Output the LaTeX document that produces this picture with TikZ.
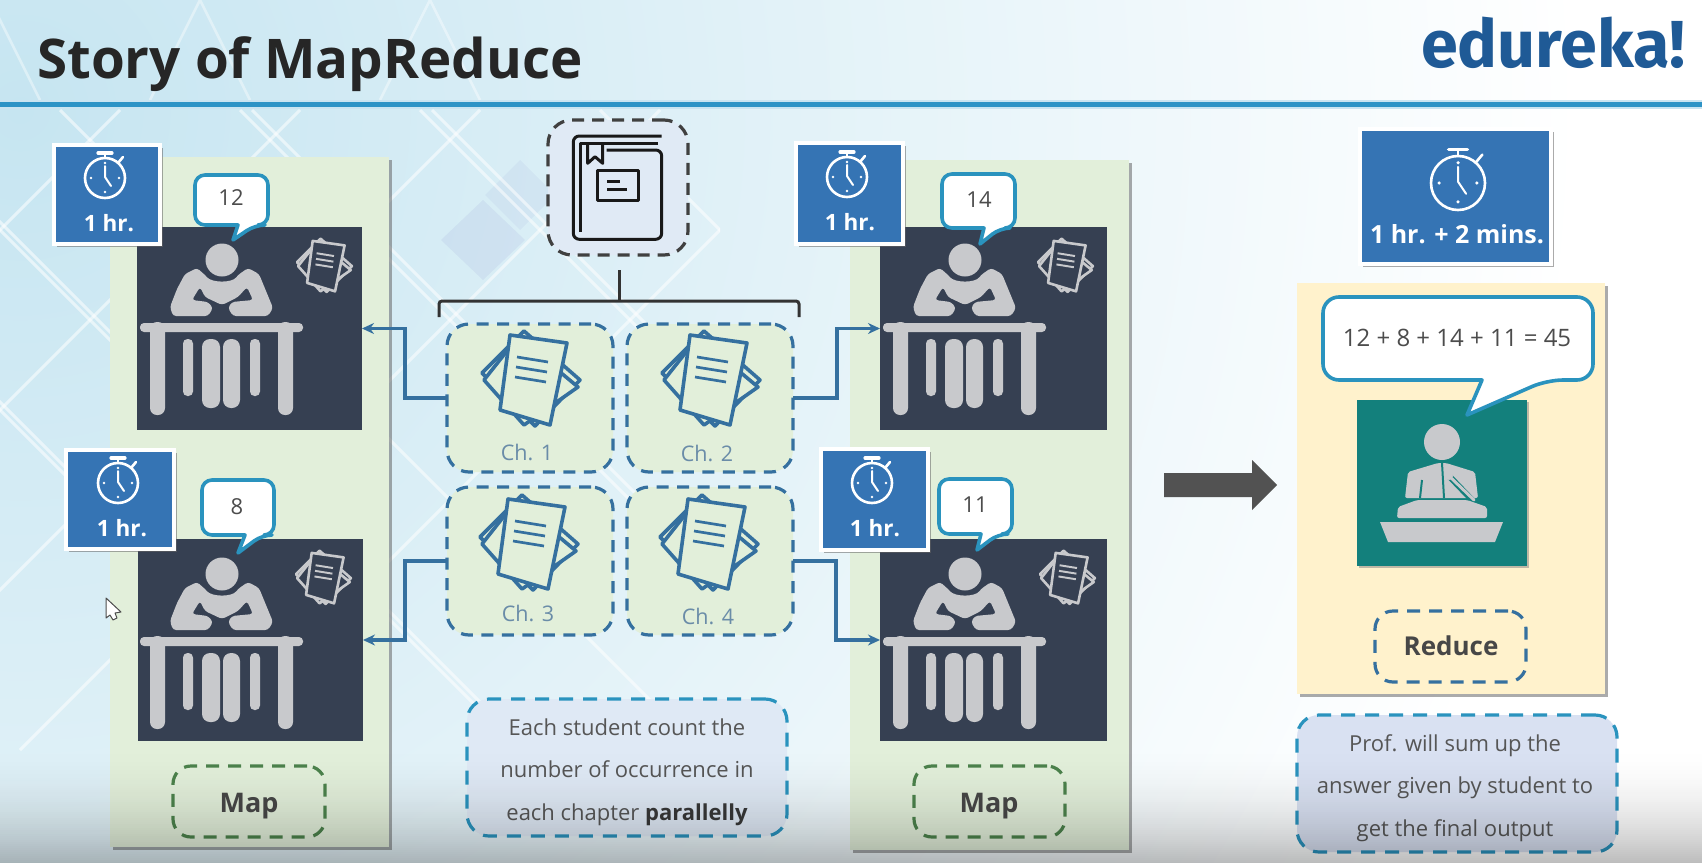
\documentclass[tikz,border=0pt]{standalone}
\usepackage{fontspec}
\setmainfont{Open Sans}
\newfontfamily\logofont{Fira Sans}
\usetikzlibrary{arrows.meta,shadows}
\definecolor{clockblue}{HTML}{3574B4}
\definecolor{slate}{HTML}{364052}
\definecolor{iconhue}{HTML}{C8C9CC}
\definecolor{pgreen}{HTML}{E2EFDA}
\definecolor{pyellow}{HTML}{FFF2CC}
\definecolor{wire}{HTML}{35709F}
\definecolor{teal1}{HTML}{13807C}
\definecolor{bubblec}{HTML}{2A93BE}
\definecolor{cyanrule}{HTML}{2D93C6}
\definecolor{logoblue}{HTML}{1F5A96}
\definecolor{txt}{HTML}{565656}
\definecolor{chtxt}{HTML}{6A8CA8}
\definecolor{bgblue}{HTML}{C6E5F1}
\definecolor{bookfill}{HTML}{E0EAF5}
\definecolor{noteone}{HTML}{DFE9F5}
\definecolor{notetwo}{HTML}{D9E1F2}
\tikzset{
  x=1pt,y=-1pt,
  bx/.style={rectangle,inner sep=0pt,outer sep=0pt},
  pshadow/.style={drop shadow={shadow xshift=2.5pt,shadow yshift=-2.5pt,fill=black!60,opacity=.55}},
  panel/.style={bx,pshadow},
  clockbx/.style={bx,fill=clockblue,draw=white,line width=3.5pt,pshadow},
  chap/.style={bx,rounded corners=22pt,fill=pgreen,draw=wire,line width=3.2pt,dash pattern=on 12pt off 8.5pt},
  tagbx/.style={bx,rounded corners=18pt,line width=3.2pt,dash pattern=on 13pt off 9pt},
  tagtxt/.style={inner sep=0pt,anchor=base,text=black!72,font=\fontsize{27}{30}\selectfont\bfseries},
  notebx/.style={bx,rounded corners=22pt,draw=bubblec,line width=3.2pt,dash pattern=on 14pt off 10pt},
  notetxt/.style={inner sep=0pt,align=center,text=txt,font=\fontsize{22}{42.5}\selectfont},
  bubblebx/.style={draw=bubblec,fill=white,line width=3.6pt,rounded corners=10pt,line join=round},
  bubbletxt/.style={inner sep=0pt,text=black!70,font=\fontsize{22}{26}\selectfont},
  wirepath/.style={draw=wire,line width=3.4pt,-{Stealth[length=12pt,width=11pt]}},
  chtext/.style={inner sep=0pt,text=chtxt,font=\fontsize{21.5}{24}\selectfont},
  hrtext/.style={inner sep=0pt,text=white,font=\fontsize{22.5}{26}\selectfont\bfseries},
}
% box given by its corners
\newcommand\cornerbox[6]{\node[#2,minimum width={#5-#3},minimum height={#6-#4}] (#1) at ({(#3+#5)/2},{(#4+#6)/2}) {};}
% stopwatch
\newcommand\stopwatch[3]{\begin{scope}[shift={(#1,#2)},scale=#3,draw=white,line cap=round,line width=2.6pt]
  \draw (0,0) circle (20);
  \draw (0,-20) -- (0,-25);
  \draw[line width=3.2pt] (-7,-25) -- (7,-25);
  \draw (13,-15) -- (18,-21);
  \draw[line width=2pt] (0,-12) -- (0,-1) -- (6,8);
  \fill[white] (-14,0) circle (1.3) (14,0) circle (1.3) (0,14) circle (1.3) (0,-15) circle (1.3);
\end{scope}}
% pile of sheets
\newcommand\paperstack[6]{\begin{scope}[shift={(#1,#2)},scale=#3,draw=#4,line width=#6,line join=round]
  \filldraw[fill=#5] (-50,-5) -- (-8,-47) -- (48,2) -- (3,48) -- cycle;
  \filldraw[fill=#5] (-48,2) -- (-14,-41) -- (46,9) -- (-8,47) -- cycle;
  \filldraw[fill=#5] (-22,-43) -- (35,-35) -- (18,47) -- (-32,32) -- cycle;
  \draw[line width=.75*#6] (-15,-21) -- (16,-16) (-16,-11) -- (15,-6) (-17,-1) -- (14,4);
\end{scope}}
% student at a desk, relative to the square's corner
\newcommand\student[2]{\begin{scope}[shift={(#1,#2)},fill=iconhue]
  \fill (85,33) circle (16.5);
  \fill[rounded corners=3pt] (36,89) -- (33,80) -- (40,62) -- (48,47) -- (60,41) -- (68,48) .. controls (75,56) and (95,56) .. (101,48) -- (111,41) -- (122,47) -- (136,81) -- (131,89) -- (96,89) -- (91,81) -- (95,75) -- (116,73) -- (110,60) -- (101,70) -- (85,78) -- (68,70) -- (63,60) -- (55,73) -- (71,75) -- (76,81) -- (71,89) -- cycle;
  \fill[rounded corners=4pt] (3,96) rectangle (166,105);
  \fill[rounded corners=7pt] (13,95) rectangle (28,188);
  \fill[rounded corners=7pt] (141,95) rectangle (156,188);
  \fill[rounded corners=4.5pt] (46,112) rectangle (56,169);
  \fill[rounded corners=8pt] (65,112) rectangle (83,181);
  \fill[rounded corners=8pt] (86,112) rectangle (103,181);
  \fill[rounded corners=4.5pt] (113,112) rectangle (123,169);
\end{scope}}
\begin{document}
\begin{tikzpicture}
\useasboundingbox (0,0) rectangle (1702,862);
% background
\fill[white] (0,0) rectangle (1702,862);
\begin{scope}
  \clip (0,0) rectangle (1702,862);
  \shade[shading=radial,inner color=bgblue,outer color=white] (20,110) circle (1560);
  \fill[blue!40!gray,opacity=.07] (483,200) -- (525,240) -- (483,280) -- (441,240) -- cycle;
  \fill[blue!40!gray,opacity=.05] (520,160) -- (555,195) -- (520,230) -- (485,195) -- cycle;
  \begin{scope}
    \clip (0,108) rectangle (720,760);
    \begin{scope}[white,line width=3pt,opacity=.55]
      \foreach \k in {-300,-120,60,240,420,600}
        \draw (\k,110) -- ++(640,640);
      \foreach \k in {120,300,480,660,840}
        \draw (\k,110) -- ++(-640,640);
      \foreach \k in {-292,-112,252,432}
        \draw (\k,110) -- ++(640,640);
    \end{scope}
  \end{scope}
  \begin{scope}[white,line width=2.5pt,opacity=.4]
    \foreach \k in {-60,150,380}
      \draw (\k,100) -- ++(50,-100) (\k+100,100) -- ++(-50,-100);
  \end{scope}
\end{scope}
% header
\fill[cyanrule!25!white] (0,100) rectangle (1702,109);
\fill[cyanrule] (0,102) rectangle (1702,107);
\node[inner sep=0pt,anchor=base west,text=black!85,font=\fontsize{54.7}{60}\selectfont\bfseries] (title) at (37,78) {Story of MapReduce};
\node[inner sep=0pt,anchor=base west,text=logoblue,font=\fontsize{66.5}{70}\selectfont\logofont\bfseries] (logo) at (1421,67) {edureka!};
% panels
\cornerbox{leftpanel}{panel,fill=pgreen}{110}{157}{389}{847}
\cornerbox{rightpanel}{panel,fill=pgreen}{850}{160}{1129}{850}
\cornerbox{reducepanel}{panel,fill=pyellow}{1297}{283}{1605}{694}
% tags
\cornerbox{map1}{tagbx,draw=green!30!black!70}{173}{766}{325}{837}
\cornerbox{map2}{tagbx,draw=green!30!black!70}{914}{766}{1065}{837}
\cornerbox{reduce}{tagbx,draw=wire}{1375}{611}{1526}{682}
\node[tagtxt] (maptxt1) at (249,812) {Map};
\node[tagtxt] (maptxt2) at (989,812) {Map};
\node[tagtxt,font=\fontsize{26}{30}\selectfont\bfseries] (reducetxt) at (1451,655) {Reduce};
% dark squares
\cornerbox{s1}{bx,fill=slate}{137}{227}{362}{430}
\cornerbox{s2}{bx,fill=slate}{138}{539}{363}{741}
\cornerbox{s3}{bx,fill=slate}{880}{227}{1107}{430}
\cornerbox{s4}{bx,fill=slate}{880}{539}{1107}{741}
\student{137}{227}\student{137}{541}\student{880}{227}\student{880}{541}
\paperstack{325}{265}{.56}{iconhue}{slate}{2.6pt}
\paperstack{324}{577}{.56}{iconhue}{slate}{2.6pt}
\paperstack{1066}{265}{.56}{iconhue}{slate}{2.6pt}
\paperstack{1068}{577}{.56}{iconhue}{slate}{2.6pt}
% chapters
\cornerbox{ch1}{chap}{447}{324}{613}{472}
\cornerbox{ch2}{chap}{627}{324}{793}{472}
\cornerbox{ch3}{chap}{447}{487}{613}{635}
\cornerbox{ch4}{chap}{627}{487}{793}{635}
\paperstack{532}{378}{1}{wire}{pgreen}{3.6pt}
\paperstack{712}{378}{1}{wire}{pgreen}{3.6pt}
\paperstack{530}{542}{1}{wire}{pgreen}{3.6pt}
\paperstack{710}{542}{1}{wire}{pgreen}{3.6pt}
\node[chtext] (c1) at (527,452) {Ch. 1};
\node[chtext] (c2) at (707,453) {Ch. 2};
\node[chtext] (c3) at (528,613) {Ch. 3};
\node[chtext] (c4) at (708,616) {Ch. 4};
% book
\cornerbox{book}{bx,rounded corners=24pt,fill=bookfill,draw=black!75,line width=3.2pt,dash pattern=on 12pt off 8pt}{548}{120}{688}{255}
\begin{scope}[draw=black!90,line width=3pt,line join=round]
  \draw[rounded corners=6pt] (661.7,136) -- (573.3,136) -- (573.3,239.3) -- (661.7,239.3) -- (661.7,150) -- (606.7,150);
  \draw (658,143.3) -- (580,143.3) -- (580,231.7);
  \draw (587.7,143.3) -- (587.7,163.3) -- (595,156.7) -- (602.7,163.3) -- (602.7,143.3);
  \draw (597.3,170.7) rectangle (638.3,200);
  \draw (607.3,181) -- (620,181) (607.3,189.3) -- (627.3,189.3);
\end{scope}
% brace
\coordinate (brtop) at (619,270);
\coordinate (brmid) at (619,301);
\coordinate (brl) at (439,317);
\coordinate (brr) at (799,317);
\coordinate (brla) at (439,301);
\coordinate (brra) at (799,301);
\draw[black!80,line width=3pt,rounded corners=3pt] (brl) -- (brla) -- (brra) -- (brr);
\draw[black!80,line width=3pt] (brtop) -- (brmid);
% connectors
\coordinate (j1) at (405,398);
\coordinate (j2) at (837,398);
\coordinate (j3) at (405,561);
\coordinate (j4) at (836,561);
\draw[wirepath] (ch1.west) -- (j1) |- (s1.east);
\draw[wirepath] (ch2.east) -- (j2) |- (s3.west);
\draw[wirepath] (ch3.west) -- (j3) |- (s2.east);
\draw[wirepath] (ch4.east) -- (j4) |- (s4.west);
% clocks
\cornerbox{k1}{clockbx}{54}{145}{160}{244}
\cornerbox{k2}{clockbx}{66}{450}{174}{549}
\cornerbox{k3}{clockbx}{796}{143}{903}{244}
\cornerbox{k4}{clockbx}{821}{449}{928}{550}
\cornerbox{k5}{clockbx}{1360}{129}{1551}{264}
\stopwatch{105}{178}{1}\stopwatch{118}{483}{1}\stopwatch{847}{177}{1}\stopwatch{872}{483}{1}\stopwatch{1458}{183}{1.35}
\node[hrtext] (t1) at (109,223) {1 hr.};
\node[hrtext] (t2) at (122,528) {1 hr.};
\node[hrtext] (t3) at (850,222) {1 hr.};
\node[hrtext] (t4) at (875,528) {1 hr.};
\node[hrtext,font=\fontsize{25}{28}\selectfont\bfseries] (t5) at (1457,234) {1 hr. + 2 mins.};
% bubbles
\filldraw[bubblebx] (195,175) -- (268,175) -- (268,225) -- (255,225) [sharp corners] -- (233,240) -- (238,225) [rounded corners=10pt] -- (195,225) -- cycle;
\filldraw[bubblebx] (202,480) -- (274,480) -- (274,535) -- (262,535) [sharp corners] -- (238,553) -- (245,535) [rounded corners=10pt] -- (202,535) -- cycle;
\filldraw[bubblebx] (942,174) -- (1015,174) -- (1015,228) -- (1000,228) [sharp corners] -- (980,244) -- (984,228) [rounded corners=10pt] -- (942,228) -- cycle;
\filldraw[bubblebx] (939,479) -- (1012,479) -- (1012,534) -- (998,534) [sharp corners] -- (977,550) -- (981,534) [rounded corners=10pt] -- (939,534) -- cycle;
\node[bubbletxt] (b1) at (231,198) {12};
\node[bubbletxt] (b2) at (237,507) {8};
\node[bubbletxt] (b3) at (979,200) {14};
\node[bubbletxt] (b4) at (975,505) {11};
% professor
\cornerbox{prof}{bx,fill=teal1,drop shadow={shadow xshift=2pt,shadow yshift=-2pt,fill=black!50,opacity=.5}}{1357}{400}{1527}{566}
\begin{scope}[fill=iconhue]
  \fill (1442,442) circle (18);
  \fill[rounded corners=2pt] (1405,498) -- (1408,472) -- (1438,463) -- (1446,463) -- (1475,472) -- (1478,498) -- cycle;
  \draw[teal1,line width=2pt] (1420,498) -- (1422,480) (1442,463) -- (1444,498);
  \draw[teal1,line width=6pt] (1449,476) -- (1474,502);
  \draw[iconhue,line width=3pt,line cap=round] (1449,476) -- (1474,500);
  \fill[iconhue] (1449,476) circle (4);
  \fill[rounded corners=2pt] (1397,518) -- (1398,507) -- (1417,500) -- (1467,500) -- (1487,507) -- (1487,518) -- cycle;
  \fill (1380,522) -- (1503,522) -- (1495,542) -- (1388,542) -- cycle;
\end{scope}
\filldraw[bubblebx,rounded corners=16pt] (1323,297) -- (1593,297) -- (1593,380) -- (1547,380) [sharp corners] -- (1467,415) -- (1482,380) [rounded corners=16pt] -- (1323,380) -- cycle;
\node[bubbletxt,font=\fontsize{24}{28}\selectfont] (sum) at (1457,338) {12 + 8 + 14 + 11 = 45};
% big arrow
\fill[black!68] (1164,473) -- (1252,473) -- (1252,460) -- (1277,485) -- (1252,510) -- (1252,497) -- (1164,497) -- cycle;
% notes
\cornerbox{note1}{notebx,fill=noteone}{467}{699}{787}{836}
\cornerbox{note2}{notebx,fill=notetwo}{1297}{715}{1617}{852}
\node[notetxt] (n1) at (627,772) {Each student count the\\number of occurrence in\\each chapter \textbf{\textcolor{black!78}{parallelly}}};
\node[notetxt] (n2) at (1455,788) {Prof. will sum up the\\answer given by student to\\get the final output};
% cursor
\filldraw[fill=white,draw=black!70,line width=1pt,line join=round] (106,598) -- (106,618) -- (110,615) -- (113,620) -- (117,618) -- (115,613) -- (121,612) -- cycle;
% fade at the foot
\foreach \i in {0,...,60}
  \fill[black,opacity={0.26*(\i/60)*(\i/60)}] (0,{742+2*\i}) rectangle (1702,{744+2*\i});
\end{tikzpicture}
\end{document}
